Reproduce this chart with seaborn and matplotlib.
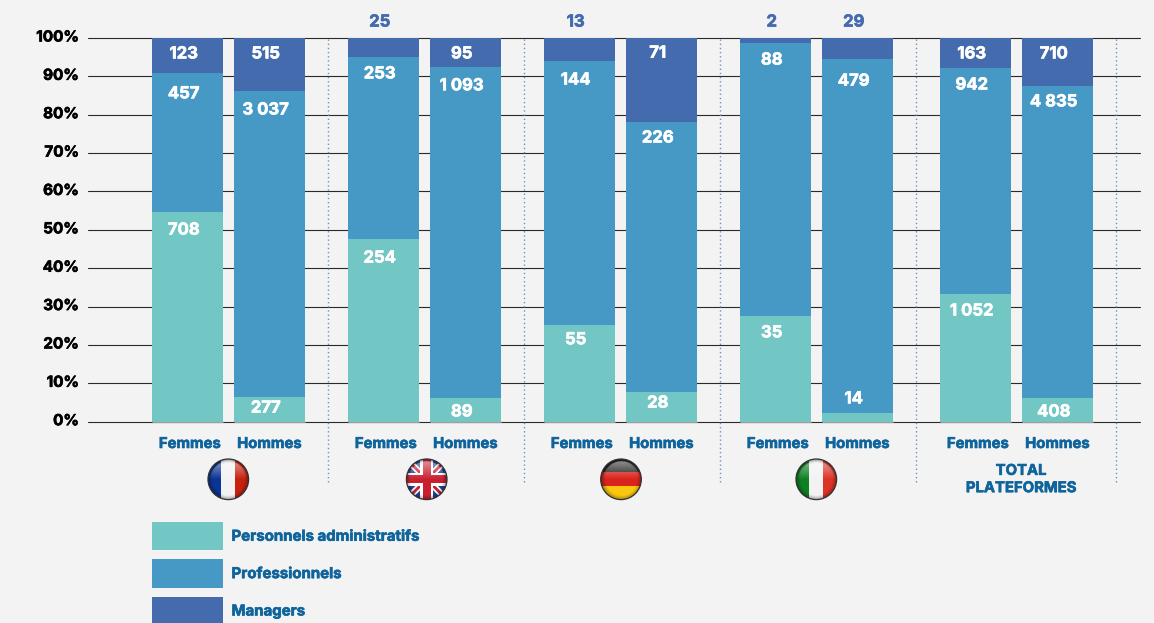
import numpy as np
import pandas as pd
import seaborn as sns
import matplotlib.pyplot as plt
import matplotlib.patheffects as pe
from matplotlib.transforms import ScaledTranslation
from matplotlib.patches import Circle, Rectangle, Patch, Polygon

# valeurs
sexes = ["Femmes", "Hommes"]
group_names = ["France", "Royaume-Uni", "Allemagne", "Italie", "TOTAL\nPLATEFORMES"]
series_names = ["Personnels administratifs", "Professionnels", "Managers"]

# part de chaque segment en %
admin_share = [54.6, 6.5, 47.6, 6.2, 25.2, 7.7, 27.5, 2.3, 33.3, 6.2]
pro_share = [36.4, 79.7, 47.4, 86.2, 68.8, 70.4, 71.2, 92.2, 58.9, 81.3]
mgr_share = [9.0, 13.8, 5.0, 7.6, 6.0, 21.9, 1.3, 5.5, 7.8, 12.5]

# effectifs ecrits sur les barres
admin_labels = ["708", "277", "254", "89", "55", "28", "35", "14", "1 052", "408"]
pro_labels = ["457", "3 037", "253", "1 093", "144", "226", "88", "479", "942", "4 835"]
mgr_labels = ["123", "515", "25", "95", "13", "71", "2", "29", "163", "710"]

# mise en page
admin_label_y = [50.2, 3.8, 42.9, 2.8, 21.6, 5.1, 23.4, 6.2, 29.1, 2.8]
pro_label_y = [85.7, 81.5, 90.9, 87.8, 89.3, 74.2, 94.5, 89.0, 88.0, 83.6]
mgr_label_y = [96.1, 96.1, 104.4, 96.1, 104.4, 96.3, 104.4, 104.4, 96.1, 96.1]
group_pos = [0, 2.39, 4.78, 7.17, 9.61]
separators = [1.712, 4.10, 6.50, 8.89, 11.33]

TEAL = "#72C6C3"
BLUE = "#4698C5"
DARK = "#436BAE"
TEXT_BLUE = "#0F649C"
BG = "#F3F3F3"
FONT = "Inter"
W, H = 1154, 623

sns.set_theme(style="white")
plt.rcParams["font.family"] = [FONT, "DejaVu Sans"]
plt.rcParams["font.weight"] = "bold"


def thick(color, w=0.45):
    # la police d'origine est plus grasse
    return [pe.withStroke(linewidth=w, foreground=color)]


fig = plt.figure(figsize=(W / 100, H / 100), dpi=100, facecolor=BG)
ax = fig.add_axes([88 / W, 1 - 421.7 / H, (1140 - 88) / W, (421.7 - 38) / H], facecolor=BG)

bar_x = [g + s for g in group_pos for s in (0, 1)]
df = pd.DataFrame({"x": bar_x, "admin": admin_share, "pro": pro_share, "mgr": mgr_share})
df["top_admin"] = df["admin"]
df["top_pro"] = df["admin"] + df["pro"]
df["top_mgr"] = df["top_pro"] + df["mgr"]

# barres empilees : du plus haut au plus bas
for col, color in [("top_mgr", DARK), ("top_pro", BLUE), ("top_admin", TEAL)]:
    sns.barplot(data=df, x="x", y=col, native_scale=True, color=color, saturation=1,
                width=71 / 82, errorbar=None, linewidth=0, ax=ax, zorder=3)

ax.set_xlim((88 - 187.3) / 82, (1140 - 187.3) / 82)
ax.set_ylim(0, 100)
ax.set_xlabel("")
ax.set_ylabel("")
sns.despine(ax=ax, left=True, bottom=True, top=True, right=True)

ax.set_yticks(np.arange(0, 101, 10))
ax.set_yticklabels([f"{v}%" for v in range(0, 101, 10)], fontsize=11, color="black", fontweight="bold")
ax.tick_params(axis="y", length=0, pad=6.5)
up = ScaledTranslation(0, 2.5 / 100, fig.dpi_scale_trans)
for lab in ax.get_yticklabels():
    lab.set_transform(lab.get_transform() + up)
    lab.set_path_effects(thick("black"))
ax.yaxis.grid(True, color="#2A2A2A", linewidth=0.8)
ax.xaxis.grid(False)
ax.set_axisbelow(True)
for line in ax.yaxis.get_gridlines():
    line.set_clip_on(False)

# le trait du zero passe en gris sous les barres
ax.hlines([0] * len(bar_x), [x - 71 / 164 for x in bar_x], [x + 71 / 164 for x in bar_x],
          color="#A0A0A0", linewidth=0.9, clip_on=False, zorder=4)

tick_x = [g + s for g in group_pos for s in (0.03, 1.0)]
ax.set_xticks(tick_x)
ax.set_xticklabels(sexes * len(group_pos), fontsize=10.7, color=TEXT_BLUE, fontweight="bold")
ax.tick_params(axis="x", length=0, pad=11)
for lab in ax.get_xticklabels():
    lab.set_path_effects(thick(TEXT_BLUE))

ax.vlines(separators, -15.7, 100, color="#6F8FC8", linewidth=1, linestyle=(0, (1, 2)),
          clip_on=False, zorder=4)

# etiquettes
for labels, ys in [(admin_labels, admin_label_y), (pro_labels, pro_label_y), (mgr_labels, mgr_label_y)]:
    for x, lab, y in zip(bar_x, labels, ys):
        color = DARK if y > 100 else "white"
        ax.annotate(lab, (x, y), xytext=(-2.5, -0.7), textcoords="offset points", ha="center",
                    va="center", fontsize=12, color=color, fontweight="bold",
                    annotation_clip=False, zorder=5, path_effects=thick(color))

# legende
fs = 10.8
px = fs * 100 / 72
handles = [Patch(facecolor=c, edgecolor="none") for c in (TEAL, BLUE, DARK)]
leg = fig.legend(handles, series_names, loc="upper left", bbox_to_anchor=(152 / W, 1 - 522 / H),
                 frameon=False, handlelength=71 / px, handleheight=38 / px,
                 labelspacing=9.0 / px, handletextpad=8.5 / px, borderpad=0, borderaxespad=0,
                 labelcolor=TEXT_BLUE, prop={"family": FONT, "weight": "bold", "size": fs})
for t in leg.get_texts():
    t.set_path_effects(thick(TEXT_BLUE))

# calque en pixels pour les drapeaux
ov = fig.add_axes([0, 0, 1, 1], facecolor="none")
ov.set_xlim(0, W)
ov.set_ylim(H, 0)
ov.axis("off")

ov.text(1021, 479.5, group_names[4], ha="center", va="center", fontsize=10.7, color=TEXT_BLUE,
        fontweight="bold", linespacing=1.3, path_effects=thick(TEXT_BLUE))

yy, xx = np.mgrid[-1:1:120j, -1:1:120j]
rr = np.sqrt(xx ** 2 + yy ** 2)
gloss = np.zeros((120, 120, 4))
gloss[..., :3] = 1
gloss[..., 3] = np.clip(0.55 * (-yy) * (rr < 0.9), 0, 0.55)
shade = np.zeros((120, 120, 4))
shade[..., 3] = np.clip((rr - 0.78) * 1.6, 0, 0.5)


def draw_flag(cx, cy, parts, r=20.3):
    clip = Circle((cx, cy), r, transform=ov.transData)
    for p in parts:
        ov.add_patch(p)
        p.set_clip_path(clip)
    ext = (cx - r, cx + r, cy + r, cy - r)
    for arr in (shade, gloss):
        im = ov.imshow(arr, extent=ext, zorder=6, interpolation="bilinear", aspect="auto")
        im.set_clip_path(clip)
    ov.add_patch(Circle((cx, cy), r, fill=False, edgecolor="#333333", linewidth=0.9, zorder=7))


def bands(cx, cy, colors, vertical, r=21):
    parts = []
    step = 2 * r / 3
    for i, c in enumerate(colors):
        if vertical:
            parts.append(Rectangle((cx - r + i * step, cy - r), step, 2 * r, fc=c, ec="none", zorder=5))
        else:
            parts.append(Rectangle((cx - r, cy - r + i * step), 2 * r, step, fc=c, ec="none", zorder=5))
    return parts


def union_jack(cx, cy, r=21):
    parts = [Rectangle((cx - r, cy - r), 2 * r, 2 * r, fc="#1F3F98", ec="none", zorder=5)]
    for sign in (1, -1):
        for w, c in ((4.5, "white"), (2, "#C8202F")):
            parts.append(Polygon([(cx - r, cy - sign * (r - w)), (cx - r, cy - sign * (r + w)),
                                  (cx + r, cy + sign * (r - w)), (cx + r, cy + sign * (r + w))],
                                 closed=True, fc=c, ec="none", zorder=5))
    for w, c in ((6.5, "white"), (4, "#C8202F")):
        parts.append(Rectangle((cx - w, cy - r), 2 * w, 2 * r, fc=c, ec="none", zorder=5))
        parts.append(Rectangle((cx - r, cy - w), 2 * r, 2 * w, fc=c, ec="none", zorder=5))
    return parts


draw_flag(228.3, 479.3, bands(228.3, 479.3, ["#0A3595", "#F2F2F2", "#C6200F"], True))
draw_flag(426.7, 479.3, union_jack(426.7, 479.3))
draw_flag(621, 479.3, bands(621, 479.3, ["#222222", "#D8241C", "#F9C80E"], False))
draw_flag(816.3, 479.3, bands(816.3, 479.3, ["#0E7F22", "#F2F2F2", "#DD3226"], True))
ov.set_xlim(0, W)
ov.set_ylim(H, 0)

fig.savefig("out.png", dpi=100, facecolor=BG)
